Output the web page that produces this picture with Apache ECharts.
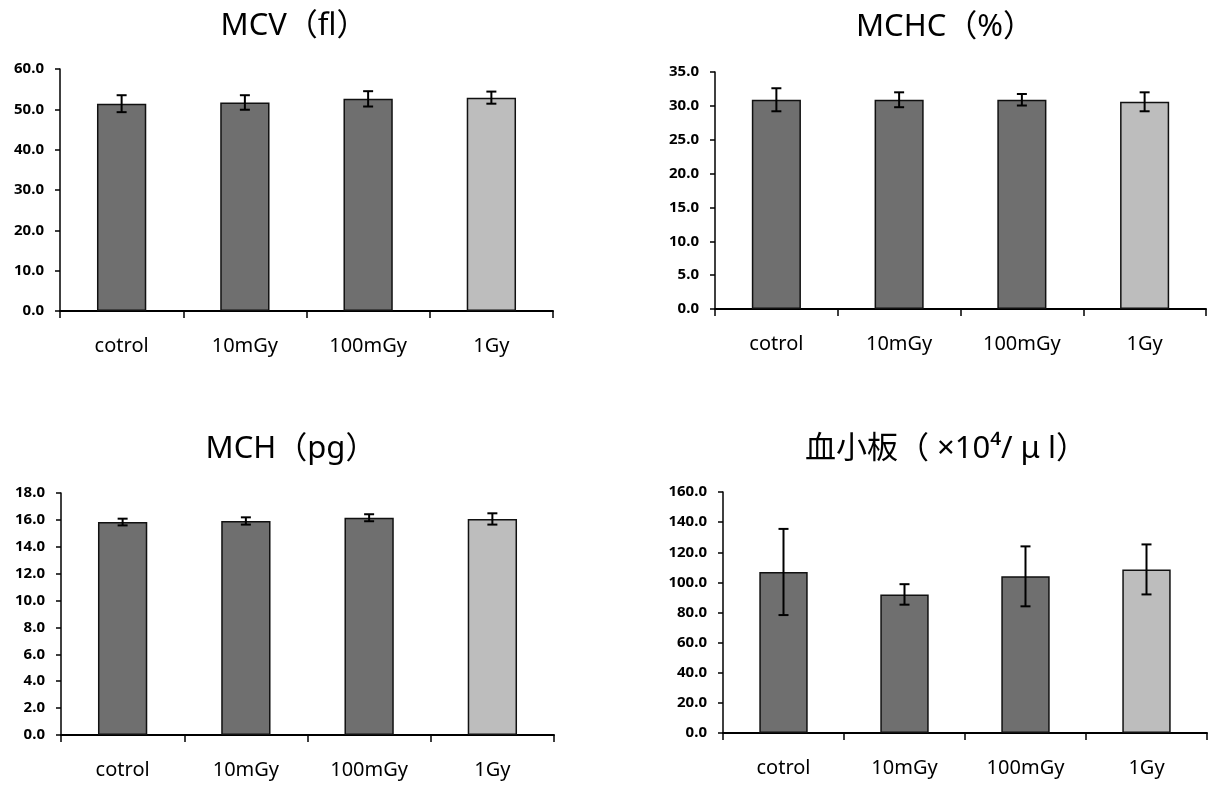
<!DOCTYPE html>
<html>
<head>
<meta charset="utf-8">
<script src="https://cdn.jsdelivr.net/npm/echarts@6/dist/echarts.min.js"></script>
<style>
html,body{margin:0;padding:0;background:#fff;}
#chart{width:1208px;height:785px;}
</style>
</head>
<body>
<div id="chart"></div>
<script>
const categories = ['cotrol', '10mGy', '100mGy', '1Gy'];

const titles = ['MCV（fl）', 'MCHC（%）', 'MCH（pg）', '血小板（ ×10⁴/ μ l）'];

const mcv = [51.4, 51.7, 52.6, 52.9];
const mcvErr = [2.1, 1.8, 1.9, 1.5];

const mchc = [30.9, 30.9, 30.9, 30.6];
const mchcErr = [1.7, 1.1, 0.85, 1.4];

const mch = [15.84, 15.92, 16.16, 16.07];
const mchErr = [0.25, 0.27, 0.26, 0.42];

const platelet = [106.9, 92.0, 104.0, 108.6];
const plateletErr = [28.6, 6.8, 19.9, 16.6];

const yMax = [60, 35, 18, 160];
const yStep = [10, 5, 2, 20];

const panels = [
  { vals: mcv, errs: mcvErr },
  { vals: mchc, errs: mchcErr },
  { vals: mch, errs: mchErr },
  { vals: platelet, errs: plateletErr }
];

const grids = [
  { left: 60, top: 69, width: 493, height: 242 },
  { left: 715, top: 72, width: 491, height: 237 },
  { left: 61, top: 493, width: 493, height: 242 },
  { left: 723, top: 492, width: 484, height: 241 }
];
const titlePos = [
  { left: 289, top: 6 },
  { left: 940, top: 7 },
  { left: 286, top: 429 },
  { left: 941, top: 429 }
];

const FONT = '"Noto Sans", "Noto Sans CJK JP", sans-serif';
const DARK = '#6f6f6f';
const LIGHT = '#bdbdbd';

const option = {
  backgroundColor: '#fff',
  animation: false,
  title: titles.map((t, i) => ({
    text: t,
    left: titlePos[i].left,
    top: titlePos[i].top,
    textAlign: 'center',
    textStyle: { fontFamily: FONT, fontSize: 31, fontWeight: 'normal', color: '#000' }
  })),
  grid: grids,
  xAxis: grids.map((g, i) => ({
    type: 'category',
    gridIndex: i,
    data: categories,
    axisLine: { show: true, lineStyle: { color: '#000', width: 2 } },
    axisTick: { show: true, length: 7, lineStyle: { color: '#000', width: 1.5 } },
    axisLabel: { color: '#000', fontFamily: FONT, fontSize: 20, margin: 25 },
    splitLine: { show: false }
  })),
  yAxis: grids.map((g, i) => ({
    type: 'value',
    gridIndex: i,
    min: 0,
    max: yMax[i],
    interval: yStep[i],
    axisLine: { show: true, lineStyle: { color: '#000', width: 1.5 } },
    axisTick: { show: true, length: 5, lineStyle: { color: '#000', width: 1.5 } },
    axisLabel: {
      color: '#000', fontFamily: FONT, fontSize: 15, fontWeight: 'bold', margin: 16,
      formatter: v => v.toFixed(1)
    },
    splitLine: { show: false }
  })),
  series: []
};

panels.forEach((p, i) => {
  option.series.push({
    type: 'bar',
    xAxisIndex: i,
    yAxisIndex: i,
    barWidth: '40%',
    data: p.vals.map((v, k) => ({
      value: v,
      itemStyle: { color: k === 3 ? LIGHT : DARK }
    })),
    itemStyle: { borderColor: '#111', borderWidth: 1.5 },
    z: 2
  });
  option.series.push({
    type: 'custom',
    xAxisIndex: i,
    yAxisIndex: i,
    data: p.vals.map((v, k) => [k, v, p.errs[k]]),
    encode: { x: 0, y: 1 },
    renderItem: function (params, api) {
      const x = api.value(0), v = api.value(1), e = api.value(2);
      const top = api.coord([x, v + e]);
      const bot = api.coord([x, v - e]);
      const hw = 5;
      const st = { stroke: '#000', lineWidth: 2 };
      return {
        type: 'group',
        children: [
          { type: 'line', shape: { x1: top[0], y1: top[1], x2: bot[0], y2: bot[1] }, style: st },
          { type: 'line', shape: { x1: top[0] - hw, y1: top[1], x2: top[0] + hw, y2: top[1] }, style: st },
          { type: 'line', shape: { x1: bot[0] - hw, y1: bot[1], x2: bot[0] + hw, y2: bot[1] }, style: st }
        ]
      };
    },
    z: 5
  });
});

const chart = echarts.init(document.getElementById('chart'), null, { renderer: 'canvas' });
chart.setOption(option);
</script>
</body>
</html>
